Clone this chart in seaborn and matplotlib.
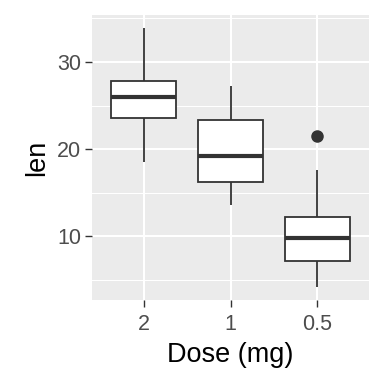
import matplotlib
matplotlib.use("Agg")
import matplotlib.pyplot as plt
import seaborn as sns
import pandas as pd

# ToothGrowth lengths by dose
len_05 = [4.2, 11.5, 7.3, 5.8, 6.4, 10, 11.2, 11.2, 5.2, 7, 15.2, 21.5, 17.6, 9.7, 14.5, 10, 8.2, 9.4, 16.5, 9.7]
len_1 = [16.5, 16.5, 15.2, 17.3, 22.5, 17.3, 13.6, 14.5, 18.8, 15.5, 19.7, 23.3, 23.6, 26.4, 20, 25.2, 25.8, 21.2, 14.5, 27.3]
len_2 = [23.6, 18.5, 33.9, 25.5, 26.4, 32.5, 26.7, 21.5, 23.3, 29.5, 25.5, 26.4, 22.4, 24.5, 24.8, 30.9, 26.4, 27.3, 29.4, 23]
dose_order = ["2", "1", "0.5"]
y_ticks = [10, 20, 30]
y_minor = [5, 15, 25, 35]

df = pd.DataFrame({
    "dose": ["0.5"] * len(len_05) + ["1"] * len(len_1) + ["2"] * len(len_2),
    "len": len_05 + len_1 + len_2,
})

plt.rcParams["font.family"] = ["Liberation Sans", "DejaVu Sans"]

fig = plt.figure(figsize=(3.84, 3.84), dpi=100)
ax = fig.add_axes([92 / 384, 1 - 300 / 384, 277 / 384, 285 / 384])
ax.set_facecolor("#EBEBEB")

sns.boxplot(data=df, x="dose", y="len", order=dose_order, ax=ax, width=0.75,
            color="white", linecolor="#333333", linewidth=1.3,
            whis=1.5,
            medianprops=dict(color="#333333", linewidth=3),
            capprops=dict(linewidth=0),
            flierprops=dict(marker="o", markerfacecolor="#333333", markeredgecolor="#333333",
                            markersize=8))

ymin, ymax = 4.2, 33.9
pad = (ymax - ymin) * 0.05
ax.set_ylim(ymin - pad, ymax + pad)
ax.set_xlim(-0.6, 2.6)
ax.set_yticks(y_ticks)
ax.set_yticks(y_minor, minor=True)
ax.grid(True, which="major", color="white", linewidth=1.5)
ax.grid(True, which="minor", axis="y", color="white", linewidth=0.75)
ax.set_axisbelow(True)
for s in ax.spines.values():
    s.set_visible(False)
ax.tick_params(axis="both", which="major", length=5, width=1.0, color="#333333",
               labelcolor="#4D4D4D", labelsize=15.5, pad=3)
ax.tick_params(axis="x", which="major", pad=5)
ax.tick_params(axis="both", which="minor", length=0)
ax.set_xlabel("Dose (mg)", fontsize=19.5, color="black", labelpad=5)
ax.set_ylabel("len", fontsize=19.5, color="black", labelpad=5)

fig.savefig("out.png", dpi=100)
